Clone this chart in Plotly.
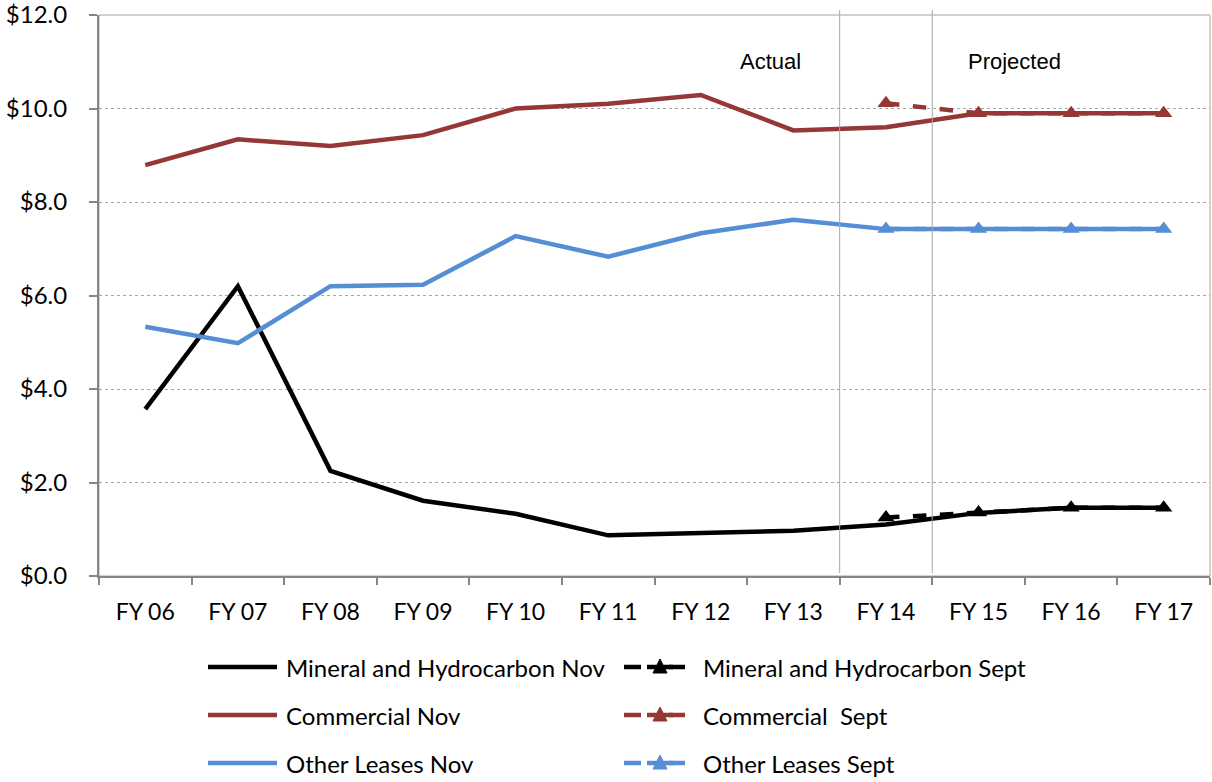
import plotly.graph_objects as go

# Fiscal years on the category axis
years = ["FY 06", "FY 07", "FY 08", "FY 09", "FY 10", "FY 11",
         "FY 12", "FY 13", "FY 14", "FY 15", "FY 16", "FY 17"]
proj_years = ["FY 14", "FY 15", "FY 16", "FY 17"]

# November estimates ($ millions)
mineral_nov = [3.57, 6.20, 2.25, 1.61, 1.33, 0.87, 0.92, 0.97, 1.10, 1.35, 1.46, 1.46]
commercial_nov = [8.79, 9.34, 9.20, 9.43, 10.00, 10.10, 10.29, 9.53, 9.60, 9.90, 9.90, 9.90]
other_nov = [5.33, 4.98, 6.20, 6.23, 7.27, 6.83, 7.33, 7.62, 7.42, 7.42, 7.42, 7.42]

# September estimates ($ millions)
mineral_sept = [1.25, 1.36, 1.46, 1.46]
commercial_sept = [10.11, 9.90, 9.90, 9.90]
other_sept = [7.42, 7.42, 7.42, 7.42]

y_ticks = [0, 2, 4, 6, 8, 10, 12]
y_tick_text = ["$0.0", "$2.0", "$4.0", "$6.0", "$8.0", "$10.0", "$12.0"]

BLACK = "#000000"
RED = "#953735"
BLUE = "#558ED5"
FONT = "Lato"

series = [
    ("Mineral and Hydrocarbon Nov", years, mineral_nov, BLACK, "solid", False),
    ("Commercial Nov", years, commercial_nov, RED, "solid", False),
    ("Other Leases Nov", years, other_nov, BLUE, "solid", False),
    ("Mineral and Hydrocarbon Sept", proj_years, mineral_sept, BLACK, "dash", True),
    ("Commercial  Sept", proj_years, commercial_sept, RED, "dash", True),
    ("Other Leases Sept", proj_years, other_sept, BLUE, "dash", True),
]

fig = go.Figure()
for name, xs, ys, color, dash, markers in series:
    fig.add_trace(go.Scatter(
        x=xs, y=ys, name=name,
        mode="lines+markers" if markers else "lines",
        line=dict(color=color, width=4.5, dash=dash),
        marker=dict(symbol="triangle-up", size=15, color=color),
        showlegend=False,
    ))

# Plot-area margins in pixels
W, H = 1212, 782
L, R, T, B = 99, 2, 15, 206
pw, ph = W - L - R, H - T - B


def px_x(px):
    return (px - L) / pw


def px_y(py):
    return (H - B - py) / ph


shapes = []
# Border around the plot area
shapes.append(dict(type="rect", xref="paper", yref="paper", x0=0, x1=1, y0=0, y1=1,
                   line=dict(color="#a6a6a6", width=1), layer="below"))
# Dividers separating actual and projected years
for xb in (7.5, 8.5):
    shapes.append(dict(type="line", xref="x", yref="paper", x0=xb, x1=xb,
                       y0=px_y(573), y1=px_y(10),
                       line=dict(color="#a6a6a6", width=1)))

label_font = dict(family="Liberation Sans, Arial", size=22, color="#000")
annotations = [
    dict(text="Actual", x=px_x(770), y=px_y(62), xref="paper", yref="paper",
         xanchor="center", yanchor="middle", showarrow=False, font=label_font),
    dict(text="Projected", x=px_x(1014), y=px_y(62), xref="paper", yref="paper",
         xanchor="center", yanchor="middle", showarrow=False, font=label_font),
]

# Legend drawn below the chart: two columns, three rows
rows_y = [667, 715, 763]
for i, (name, xs, ys, color, dash, markers) in enumerate(series):
    col = 0 if not markers else 1
    row = i % 3
    yy = px_y(rows_y[row])
    if col == 0:
        shapes.append(dict(type="line", xref="paper", yref="paper",
                           x0=px_x(208), x1=px_x(277), y0=yy, y1=yy,
                           line=dict(color=color, width=4.5)))
        tx = 284
    else:
        for a, b in ((624, 641), (647, 673), (669, 685)):
            shapes.append(dict(type="line", xref="paper", yref="paper",
                               x0=px_x(a), x1=px_x(b), y0=yy, y1=yy,
                               line=dict(color=color, width=4.5)))
        # triangle marker
        cx, cy = 660, rows_y[row]
        shapes.append(dict(type="path", xref="paper", yref="paper",
                           path="M {} {} L {} {} L {} {} Z".format(
                               px_x(cx - 7), px_y(cy + 6), px_x(cx + 7), px_y(cy + 6),
                               px_x(cx), px_y(cy - 8)),
                           fillcolor=color, line=dict(color=color, width=1)))
        tx = 701
    annotations.append(dict(text=name, x=px_x(tx), y=yy, xref="paper", yref="paper",
                            xanchor="left", yanchor="middle", showarrow=False,
                            font=dict(family=FONT, size=24, color="#000")))

fig.update_layout(
    width=W, height=H,
    margin=dict(l=L, r=R, t=T, b=B, autoexpand=False),
    plot_bgcolor="white", paper_bgcolor="white",
    shapes=shapes, annotations=annotations,
    xaxis=dict(
        type="category", range=[-0.5, 11.5], automargin=False,
        showline=True, linecolor="#868686", linewidth=2,
        ticks="outside", tickson="boundaries", ticklen=7, tickwidth=2, tickcolor="#868686",
        ticklabelstandoff=14,
        showgrid=False, tickfont=dict(family=FONT, size=23, color="#000"),
    ),
    yaxis=dict(
        range=[0, 12], tickvals=y_ticks, ticktext=y_tick_text, automargin=False,
        showline=True, linecolor="#868686", linewidth=2,
        ticks="outside", ticklen=8, tickwidth=2, tickcolor="#868686",
        ticklabelstandoff=17, ticklabeloverflow="allow",
        showgrid=True, gridcolor="#a6a6a6", griddash="dot", gridwidth=1,
        zeroline=False, tickfont=dict(family=FONT, size=24, color="#000"),
    ),
)

fig.write_html("out.html")
